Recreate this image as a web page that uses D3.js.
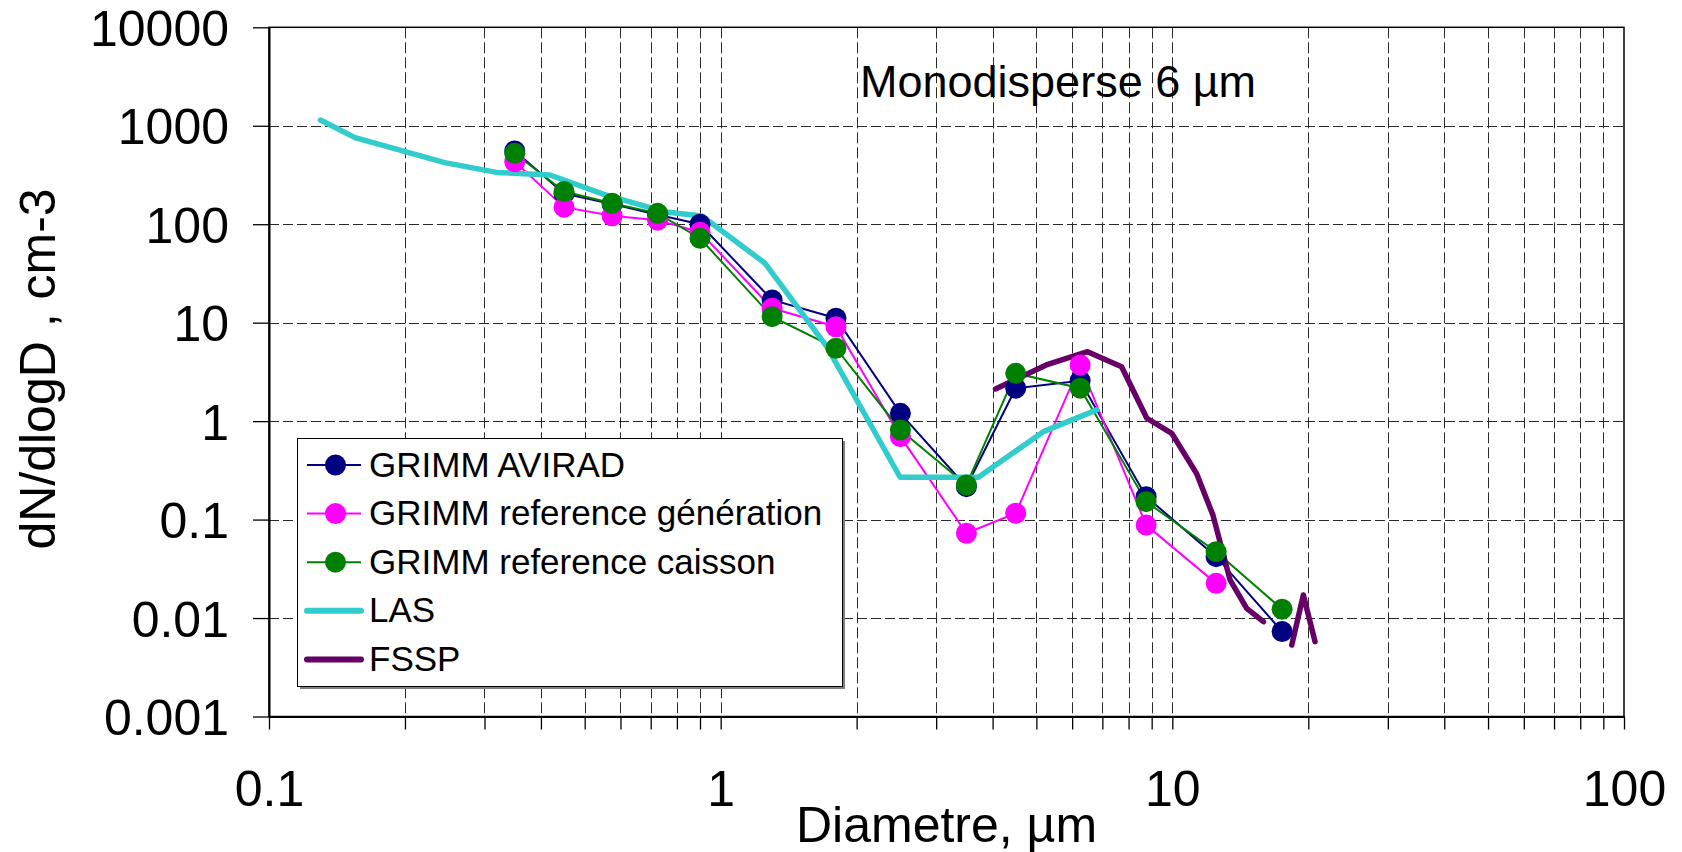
<!DOCTYPE html>
<html>
<head>
<meta charset="utf-8">
<script src="https://cdn.jsdelivr.net/npm/d3@7"></script>
<style>
  body { margin: 0; background: white; }
  text { font-family: "Liberation Sans", Arial, sans-serif; fill: black; }
</style>
</head>
<body>
<svg id="chart" width="1682" height="852"></svg>
<script>
// GRIMM channel midpoints (µm)
let grimmD = [0.35, 0.45, 0.575, 0.725, 0.9, 1.3, 1.8, 2.5, 3.5, 4.5, 6.25, 8.75, 12.5, 17.5];
let avirad = [555, 205, 160, 125, 100, 17.0, 11.1, 1.20, 0.216, 2.16, 2.57, 0.171, 0.042, 0.0073];
let generation = [431, 149, 122, 110, 83, 14.0, 9.1, 0.695, 0.0726, 0.116, 3.72, 0.088, 0.0225];
let caisson = [525, 215, 163, 129, 72, 11.5, 5.5, 0.813, 0.2245, 3.06, 2.16, 0.152, 0.0472, 0.0123];

let lasD = [0.130, 0.155, 0.245, 0.319, 0.419, 0.551, 0.749, 0.909, 1.254, 1.718, 2.496, 3.72, 5.18, 6.80];
let lasV = [1144, 757, 422, 336, 316, 201, 134, 121, 40.1, 5.70, 0.269, 0.269, 0.782, 1.30];

// null = empty channel (gap in the line)
let fsspD = [4.06, 5.26, 6.49, 7.72, 8.78, 9.97, 11.31, 12.30, 13.42, 14.61, 15.91, 17.1, 18.38, 19.50, 20.70];
let fsspV = [2.12, 3.72, 5.07, 3.57, 1.07, 0.752, 0.295, 0.111, 0.0244, 0.01256, 0.00918, null, 0.00532, 0.01714, 0.00575];

let xTickLabels = ["0.1", "1", "10", "100"];
let yTickLabels = ["0.001", "0.01", "0.1", "1", "10", "100", "1000", "10000"];

let seriesNames = ["GRIMM AVIRAD", "GRIMM reference génération", "GRIMM reference caisson", "LAS", "FSSP"];
let seriesColors = ["#000080", "#ff00ff", "#008000", "#33cccc", "#660066"];

let plotLeft = 269, plotRight = 1624, plotTop = 27.3, plotBottom = 716.5;
let font = "Liberation Sans, Arial, sans-serif";

let svg = d3.select("#chart");

let x = d3.scaleLog().domain([0.1, 100]).range([plotLeft, plotRight]);
let y = d3.scaleLog().domain([0.001, 10000]).range([plotBottom, plotTop]);

let xMinor = [];
[0.1, 1, 10].forEach(function(dec) {
	for (let k = 1; k <= 9; k++) xMinor.push(+(dec * k).toPrecision(3));
});
xMinor.push(100);
let yMajor = yTickLabels.map(function(t) { return +t; });

// Grid
svg.append("g")
	.selectAll("line")
	.data(xMinor.filter(function(d) { return d > 0.1 && d < 100; }))
	.enter().append("line")
	.attr("x1", function(d) { return Math.round(x(d)) + 0.5; })
	.attr("x2", function(d) { return Math.round(x(d)) + 0.5; })
	.attr("y1", plotTop)
	.attr("y2", plotBottom)
	.attr("stroke", "#2a2a2a")
	.attr("stroke-width", 1)
	.attr("stroke-dasharray", "11,4");

svg.append("g")
	.selectAll("line")
	.data(yMajor.filter(function(d) { return d > 0.001 && d < 10000; }))
	.enter().append("line")
	.attr("x1", plotLeft)
	.attr("x2", plotRight)
	.attr("y1", function(d) { return Math.round(y(d)) + 0.5; })
	.attr("y2", function(d) { return Math.round(y(d)) + 0.5; })
	.attr("stroke", "#2a2a2a")
	.attr("stroke-width", 1)
	.attr("stroke-dasharray", "10,4");

// plot border
svg.append("rect")
	.attr("x", plotLeft)
	.attr("y", plotTop)
	.attr("width", plotRight - plotLeft)
	.attr("height", plotBottom - plotTop)
	.attr("fill", "none")
	.attr("stroke", "black")
	.attr("stroke-width", 1.5);

// Axes
let xAxis = svg.append("g")
	.attr("transform", "translate(0," + plotBottom + ")")
	.call(d3.axisBottom(x)
		.tickValues(xMinor)
		.tickSize(13)
		.tickSizeOuter(0)
		.tickPadding(41)
		.tickFormat(function(d) {
			let i = [0.1, 1, 10, 100].indexOf(d);
			return i >= 0 ? xTickLabels[i] : "";
		}));
xAxis.selectAll("text").style("font", "50px " + font).attr("fill", "black");
xAxis.selectAll("line").attr("stroke", "black").attr("stroke-width", 1.3);
xAxis.select(".domain").attr("stroke", "black").attr("stroke-width", 2);

let yAxis = svg.append("g")
	.attr("transform", "translate(" + plotLeft + ",0)")
	.call(d3.axisLeft(y)
		.tickValues(yMajor)
		.tickSize(16)
		.tickSizeOuter(0)
		.tickPadding(24)
		.tickFormat(function(d, i) { return yTickLabels[i]; }));
yAxis.selectAll("text").style("font", "50px " + font).attr("fill", "black").attr("dy", "0.36em");
yAxis.selectAll("line").attr("stroke", "black").attr("stroke-width", 1.3);
yAxis.select(".domain").attr("stroke", "black").attr("stroke-width", 2);

// Series lines
let grimm = [avirad, generation, caisson];

let line = d3.line()
	.defined(function(d) { return d[1] != null; })
	.x(function(d) { return x(d[0]); })
	.y(function(d) { return y(d[1]); });

grimm.forEach(function(vals, s) {
	svg.append("path")
		.datum(vals.map(function(v, i) { return [grimmD[i], v]; }))
		.attr("d", line)
		.attr("fill", "none")
		.attr("stroke", seriesColors[s])
		.attr("stroke-width", 2);
});

svg.append("path")
	.datum(lasV.map(function(v, i) { return [lasD[i], v]; }))
	.attr("d", line)
	.attr("fill", "none")
	.attr("stroke", seriesColors[3])
	.attr("stroke-width", 5.5)
	.attr("stroke-linejoin", "round")
	.attr("stroke-linecap", "round");

svg.append("path")
	.datum(fsspV.map(function(v, i) { return [fsspD[i], v]; }))
	.attr("d", line)
	.attr("fill", "none")
	.attr("stroke", seriesColors[4])
	.attr("stroke-width", 5.5)
	.attr("stroke-linejoin", "round")
	.attr("stroke-linecap", "round");

// markers on top
grimm.forEach(function(vals, s) {
	svg.append("g")
		.selectAll("circle")
		.data(vals)
		.enter().append("circle")
		.attr("cx", function(d, i) { return x(grimmD[i]); })
		.attr("cy", function(d) { return y(d); })
		.attr("r", 10.5)
		.attr("fill", seriesColors[s]);
});

// Annotation
svg.append("text")
	.attr("x", 860)
	.attr("y", 96.7)
	.style("font", "45px " + font)
	.text("Monodisperse 6 µm");

// Axis titles
svg.append("text")
	.attr("x", (plotLeft + plotRight) / 2)
	.attr("y", 842)
	.style("text-anchor", "middle")
	.style("font", "50px " + font)
	.text("Diametre, µm");

svg.append("text")
	.attr("transform", "translate(55,369) rotate(-90)")
	.style("text-anchor", "middle")
	.style("font", "50px " + font)
	.text("dN/dlogD , cm-3");

// Legend
let legend = svg.append("g");
legend.append("rect")
	.attr("x", 300).attr("y", 441)
	.attr("width", 545).attr("height", 248)
	.attr("fill", "#808080");
legend.append("rect")
	.attr("x", 297.5).attr("y", 438.5)
	.attr("width", 545).attr("height", 248)
	.attr("fill", "white")
	.attr("stroke", "black")
	.attr("stroke-width", 1);

seriesNames.forEach(function(name, i) {
	let cy = 465 + i * 48.6;
	legend.append("line")
		.attr("x1", 307).attr("x2", 361)
		.attr("y1", cy).attr("y2", cy)
		.attr("stroke", seriesColors[i])
		.attr("stroke-width", i < 3 ? 2 : 6)
		.attr("stroke-linecap", i < 3 ? "butt" : "round");
	if (i < 3) {
		legend.append("circle")
			.attr("cx", 335.5).attr("cy", cy)
			.attr("r", 10.5)
			.attr("fill", seriesColors[i]);
	}
	legend.append("text")
		.attr("x", 369)
		.attr("y", cy + 11.5)
		.style("font", "35px " + font)
		.text(name);
});
</script>
</body>
</html>
